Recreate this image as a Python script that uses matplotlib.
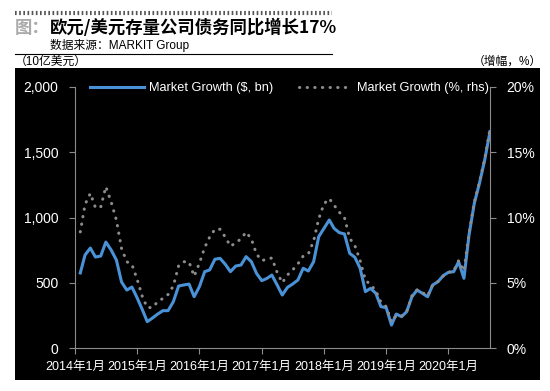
import matplotlib
matplotlib.use('Agg')
import matplotlib.pyplot as plt
import pandas as pd
from matplotlib.patches import Rectangle
from matplotlib.lines import Line2D
from matplotlib.ticker import FuncFormatter

plt.rcParams['font.family'] = ['Liberation Sans', 'Noto Sans CJK SC', 'DejaVu Sans']

# monthly data, Feb 2014 - Sep 2020
months = pd.date_range('2014-02-01', periods=80, freq='MS')

growth_bn = [575, 713, 766, 697, 705, 812, 751, 674, 506, 444,
             467, 383, 291, 202, 230, 260, 286, 286, 355, 475,
             483, 490, 393, 470, 585, 598, 680, 687, 641, 585,
             628, 636, 700, 661, 572, 516, 534, 559, 483, 406,
             465, 490, 521, 611, 590, 661, 853, 917, 981, 917,
             884, 874, 725, 695, 611, 432, 457, 419, 317, 309,
             176, 260, 240, 278, 393, 444, 419, 393, 483, 508,
             554, 580, 585, 661, 534, 866, 1109, 1262, 1441, 1658]

growth_pct = [8.9, 11.0, 11.85, 10.75, 10.8, 12.36, 11.2, 9.8, 7.63, 6.61,
              6.4, 5.25, 3.9, 3.1, 3.1, 3.55, 3.8, 4.1, 4.75, 6.3,
              6.61, 6.6, 5.5, 6.5, 7.7, 8.5, 9.1, 9.1, 8.5, 7.8,
              8.05, 8.37, 8.88, 8.35, 7.2, 6.7, 6.8, 6.9, 5.8, 5.0,
              5.6, 5.98, 6.45, 7.05, 7.2, 8.2, 9.9, 11.05, 11.45, 10.95,
              10.4, 10.0, 8.4, 7.85, 6.7, 5.2, 4.85, 4.4, 3.5, 3.17,
              2.0, 2.5, 2.45, 2.8, 4.0, 4.45, 4.25, 4.0, 4.85, 5.1,
              5.5, 5.8, 5.9, 6.7, 5.9, 8.8, 11.2, 12.7, 14.5, 16.8]

year_ticks = pd.date_range('2014-01-01', '2020-01-01', freq='YS')
year_labels = [f'{d.year}年1月' for d in year_ticks]

W, H = 550, 391
fig = plt.figure(figsize=(W / 100, H / 100), dpi=100)

# header
fig.add_artist(Line2D([15 / W, 332 / W], [1 - 13 / H, 1 - 13 / H], transform=fig.transFigure,
                      color='#555555', lw=3, linestyle=(0, (0.4, 0.6))))
fig.text(15 / W, 1 - 28 / H, '图：', color='#aaaaaa', fontsize=12.5, fontweight='bold',
         family=['Noto Sans CJK SC'], va='center', ha='left')
fig.text(50 / W, 1 - 28 / H, '欧元/美元存量公司债务同比增长17%', color='black', fontsize=12.5,
         fontweight='bold', family=['Noto Sans CJK SC'], va='center', ha='left')
fig.text(50 / W, 1 - 46 / H, '数据来源：MARKIT Group', color='black', fontsize=8.5, va='center', ha='left')
fig.add_artist(Line2D([15 / W, 332 / W], [1 - 54 / H, 1 - 54 / H], transform=fig.transFigure,
                      color='black', lw=0.8))
fig.text(15 / W, 1 - 62 / H, '（10亿美元）', color='black', fontsize=8.5, va='center', ha='left')
fig.text(542 / W, 1 - 62 / H, '（增幅，%）', color='black', fontsize=8.5, va='center', ha='right')

# black panel
fig.add_artist(Rectangle((15 / W, 11 / H), 525 / W, 312 / H, transform=fig.transFigure,
                         facecolor='black', edgecolor='none', zorder=0))

ax = fig.add_axes([75 / W, 43 / H, 415 / W, 261 / H])
ax.set_facecolor('none')
l1, = ax.plot(months, growth_bn, color='#4a92d8', lw=2.2, label='Market Growth ($, bn)')
ax.set_xlim(pd.Timestamp('2014-01-01'), pd.Timestamp('2020-09-01'))
ax.set_ylim(0, 2000)
ax.set_yticks([0, 500, 1000, 1500, 2000])
ax.yaxis.set_major_formatter(FuncFormatter(lambda v, p: f'{int(v):,}'))
ax.set_xticks(year_ticks)
ax.set_xticklabels(year_labels)

ax2 = ax.twinx()
l2, = ax2.plot(months, growth_pct, color='#8c8c8c', lw=2.2, linestyle=(0, (0.1, 2.4)),
               dash_capstyle='round', label='Market Growth (%, rhs)')
ax2.set_ylim(0, 20)
ax2.set_yticks([0, 5, 10, 15, 20])
ax2.yaxis.set_major_formatter(FuncFormatter(lambda v, p: f'{int(v)}%'))

for a in (ax, ax2):
    for s in a.spines.values():
        s.set_color('#8c8c8c')
    a.tick_params(colors='#8c8c8c', labelcolor='white', labelsize=10, length=4, width=0.8)
ax.spines['top'].set_visible(False)
ax.spines['right'].set_visible(False)
for s in ('top', 'left', 'bottom'):
    ax2.spines[s].set_visible(False)
ax.tick_params(axis='y', pad=8)
ax2.tick_params(axis='y', pad=8)
ax.tick_params(axis='x', pad=5, labelsize=9)

leg = ax2.legend(handles=[l1, l2], loc='center left', bbox_to_anchor=(0.036, 0.995), ncol=2,
                 frameon=False, fontsize=9.2, handlelength=4.2, handletextpad=0.4,
                 columnspacing=2.0, borderpad=0, borderaxespad=0)
for t in leg.get_texts():
    t.set_color('white')

fig.savefig('out.png', dpi=100)
